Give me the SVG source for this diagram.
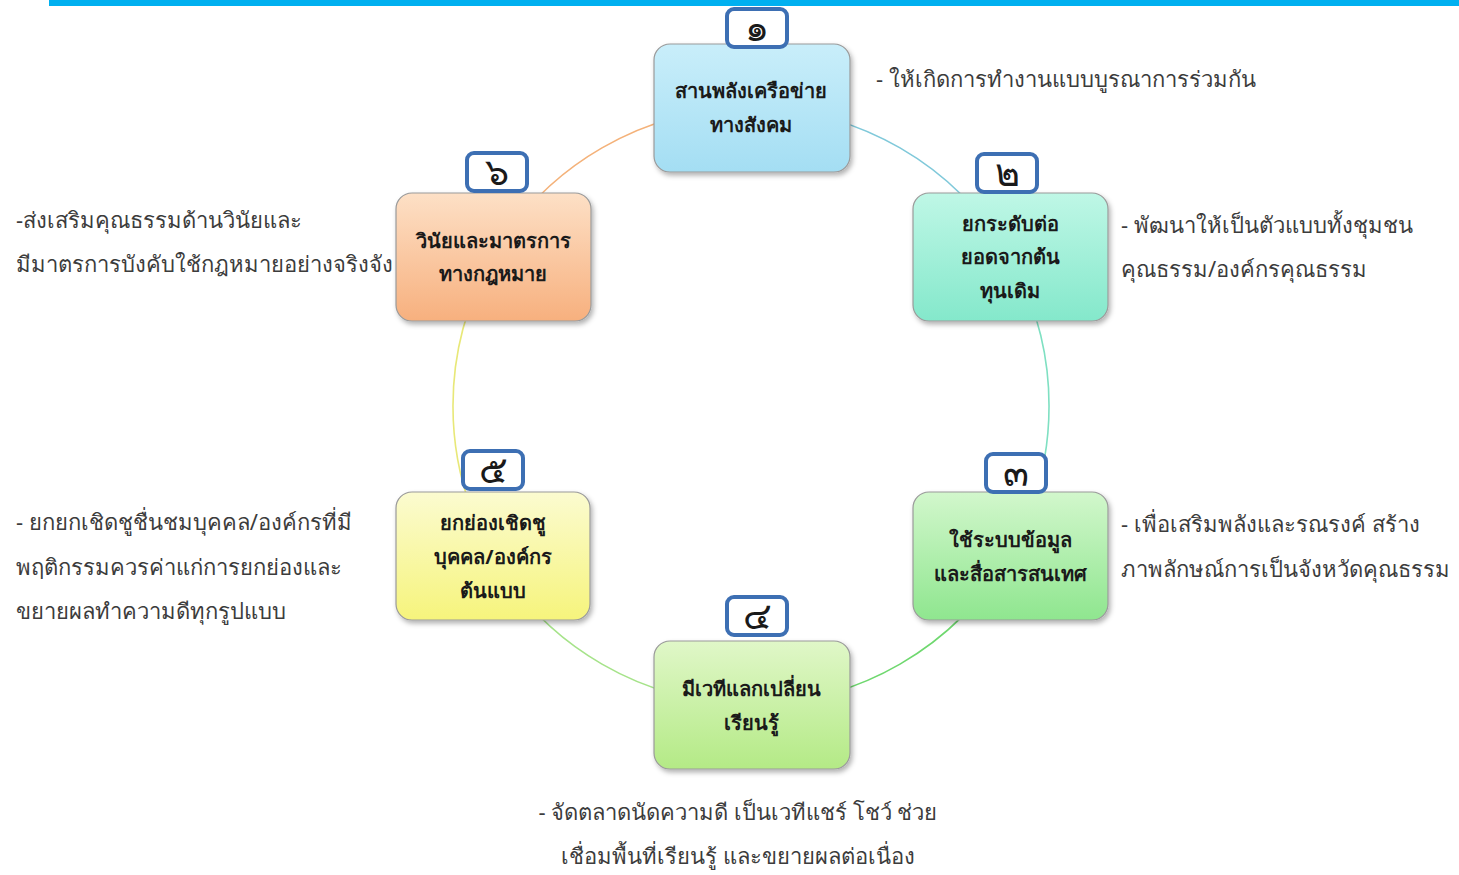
<svg xmlns="http://www.w3.org/2000/svg" width="1459" height="875" viewBox="0 0 1459 875">
<defs>
<linearGradient id="g1" x1="0" y1="0" x2="0" y2="1"><stop offset="0" stop-color="#c9eefa"/><stop offset="1" stop-color="#a4def3"/></linearGradient>
<linearGradient id="g2" x1="0" y1="0" x2="0" y2="1"><stop offset="0" stop-color="#bff7e6"/><stop offset="1" stop-color="#84e8cb"/></linearGradient>
<linearGradient id="g3" x1="0" y1="0" x2="0" y2="1"><stop offset="0" stop-color="#d2f7cc"/><stop offset="1" stop-color="#8fe68f"/></linearGradient>
<linearGradient id="g4" x1="0" y1="0" x2="0" y2="1"><stop offset="0" stop-color="#e0f7c8"/><stop offset="1" stop-color="#b4ea86"/></linearGradient>
<linearGradient id="g5" x1="0" y1="0" x2="0" y2="1"><stop offset="0" stop-color="#fbfbd0"/><stop offset="1" stop-color="#f6f47c"/></linearGradient>
<linearGradient id="g6" x1="0" y1="0" x2="0" y2="1"><stop offset="0" stop-color="#fde0c6"/><stop offset="1" stop-color="#f7b07e"/></linearGradient>
<filter id="sh" x="-10%" y="-10%" width="125%" height="130%"><feDropShadow dx="2" dy="3" stdDeviation="2.5" flood-color="#000" flood-opacity="0.3"/></filter>
</defs>
<style>
.box{stroke:#9a9a9a;stroke-width:1.2;filter:url(#sh)}
.badge{fill:#fff;stroke:#3d6fb3;stroke-width:4}
.num{font-family:"Noto Sans","DejaVu Sans",sans-serif;font-size:38px;fill:#1a1a1a;text-anchor:middle}
.lbl{font-family:"Noto Sans","DejaVu Sans",sans-serif;font-size:20px;font-weight:bold;fill:#1a1a1a;text-anchor:middle}
.note{font-family:"Noto Sans","DejaVu Sans",sans-serif;font-size:22px;fill:#3c3c3c}
.arc{fill:none;stroke-width:1.6}
</style>
<rect x="49" y="0" width="1410" height="6" fill="#00b0f0"/>
<g id="connectors">
<path class="arc" stroke="#80c9da" d="M751 108 A298 298 0 0 1 1009.1 257"/>
<path class="arc" stroke="#7fe0c2" d="M1009.1 257 A298 298 0 0 1 1009.1 555"/>
<path class="arc" stroke="#6fd86f" d="M1009.1 555 A298 298 0 0 1 751 704"/>
<path class="arc" stroke="#a6e38a" d="M751 704 A298 298 0 0 1 492.9 555"/>
<path class="arc" stroke="#e8e878" d="M492.9 555 A298 298 0 0 1 492.9 257"/>
<path class="arc" stroke="#f4b27a" d="M492.9 257 A298 298 0 0 1 751 108"/>
</g>
<g id="notes">
<text class="note" x="876" y="87">- ให้เกิดการทำงานแบบบูรณาการร่วมกัน</text>
<text class="note" x="1121" y="233">- พัฒนาให้เป็นตัวแบบทั้งชุมชน</text>
<text class="note" x="1121" y="277">คุณธรรม/องค์กรคุณธรรม</text>
<text class="note" x="1121" y="532">- เพื่อเสริมพลังและรณรงค์ สร้าง</text>
<text class="note" x="1121" y="577">ภาพลักษณ์การเป็นจังหวัดคุณธรรม</text>
<text class="note" x="738" y="820" text-anchor="middle">- จัดตลาดนัดความดี  เป็นเวทีแชร์ โชว์ ช่วย</text>
<text class="note" x="738" y="864" text-anchor="middle">เชื่อมพื้นที่เรียนรู้ และขยายผลต่อเนื่อง</text>
<text class="note" x="16" y="228">-ส่งเสริมคุณธรรมด้านวินัยและ</text>
<text class="note" x="16" y="272">มีมาตรการบังคับใช้กฎหมายอย่างจริงจัง</text>
<text class="note" x="16" y="530">- ยกยกเชิดชูชื่นชมบุคคล/องค์กรที่มี</text>
<text class="note" x="16" y="575">พฤติกรรมควรค่าแก่การยกย่องและ</text>
<text class="note" x="16" y="619">ขยายผลทำความดีทุกรูปแบบ</text>
</g>
<g id="node1">
<rect class="box" x="654" y="44" width="196" height="128" rx="16" fill="url(#g1)"/>
<text class="lbl" x="751" y="98">สานพลังเครือข่าย</text>
<text class="lbl" x="751" y="132">ทางสังคม</text>
<rect class="badge" x="727" y="9" width="60" height="38" rx="7"/>
<text class="num" x="757" y="41">๑</text>
</g>
<g id="node2">
<rect class="box" x="913" y="193" width="195" height="128" rx="16" fill="url(#g2)"/>
<text class="lbl" x="1010" y="231">ยกระดับต่อ</text>
<text class="lbl" x="1010" y="264">ยอดจากต้น</text>
<text class="lbl" x="1010" y="298">ทุนเดิม</text>
<rect class="badge" x="977" y="154" width="60" height="38" rx="7"/>
<text class="num" x="1007" y="186">๒</text>
</g>
<g id="node3">
<rect class="box" x="913" y="492" width="195" height="128" rx="16" fill="url(#g3)"/>
<text class="lbl" x="1010" y="547">ใช้ระบบข้อมูล</text>
<text class="lbl" x="1010" y="581">และสื่อสารสนเทศ</text>
<rect class="badge" x="986" y="454" width="60" height="38" rx="7"/>
<text class="num" x="1016" y="486">๓</text>
</g>
<g id="node4">
<rect class="box" x="654" y="641" width="196" height="128" rx="16" fill="url(#g4)"/>
<text class="lbl" x="751" y="696">มีเวทีแลกเปลี่ยน</text>
<text class="lbl" x="751" y="730">เรียนรู้</text>
<rect class="badge" x="727" y="597" width="60" height="38" rx="7"/>
<text class="num" x="757" y="629">๔</text>
</g>
<g id="node5">
<rect class="box" x="396" y="492" width="194" height="128" rx="16" fill="url(#g5)"/>
<text class="lbl" x="493" y="530">ยกย่องเชิดชู</text>
<text class="lbl" x="493" y="564">บุคคล/องค์กร</text>
<text class="lbl" x="493" y="598">ต้นแบบ</text>
<rect class="badge" x="463" y="451" width="60" height="38" rx="7"/>
<text class="num" x="493" y="483">๕</text>
</g>
<g id="node6">
<rect class="box" x="396" y="193" width="195" height="128" rx="16" fill="url(#g6)"/>
<text class="lbl" x="493" y="248">วินัยและมาตรการ</text>
<text class="lbl" x="493" y="281">ทางกฎหมาย</text>
<rect class="badge" x="467" y="153" width="60" height="38" rx="7"/>
<text class="num" x="497" y="185">๖</text>
</g>
</svg>
